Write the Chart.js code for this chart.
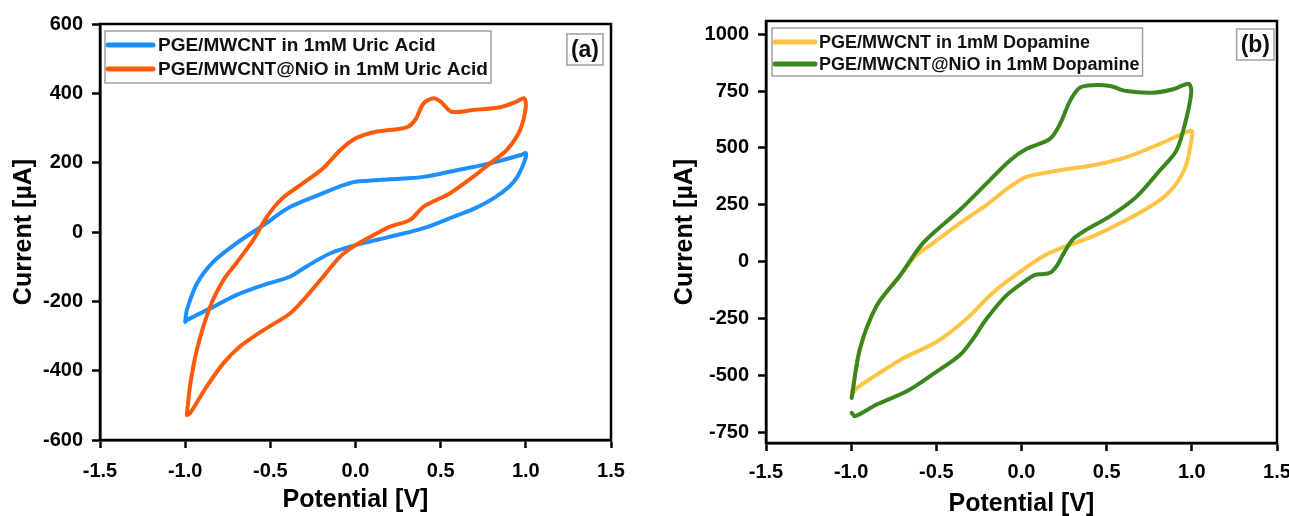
<!DOCTYPE html>
<html>
<head>
<meta charset="utf-8">
<script src="https://cdn.jsdelivr.net/npm/chart.js@4.4.1/dist/chart.umd.min.js"></script>
<style>
  html, body { margin: 0; padding: 0; background: #fff; overflow: hidden; width: 1289px; height: 516px; }
  .panel { position: absolute; top: 0; }
  #pa { left: 0; width: 645px; height: 516px; }
  #pb { left: 645px; width: 660px; height: 520px; }
</style>
</head>
<body>
<div class="panel" id="pa"><canvas id="chartA"></canvas></div>
<div class="panel" id="pb"><canvas id="chartB"></canvas></div>
<script>
// --- data: potential [V] and current [µA] ---

const xTicks = [-1.5, -1.0, -0.5, 0.0, 0.5, 1.0, 1.5];
const yTicksA = [-600, -400, -200, 0, 200, 400, 600];
const yTicksB = [-750, -500, -250, 0, 250, 500, 750, 1000];

// (a) PGE/MWCNT in 1mM Uric Acid
const uaBareV = [-1.0, -0.99, -0.93, -0.835, -0.70, -0.54, -0.385, -0.19, -0.07, 0.0, 0.2, 0.4, 0.6, 0.79, 0.97, 1.0,
  0.995, 0.95, 0.9, 0.81, 0.7, 0.6, 0.4, 0.2, 0.0, -0.15, -0.29, -0.385, -0.54, -0.70, -0.835, -0.99, -1.0];
const uaBareI = [-259, -225, -148, -86, -33, 20, 72, 112, 135, 145, 152, 159, 179, 198, 222, 228,
  208, 159, 130, 97, 68, 49, 11, -14, -38, -62, -100, -129, -153, -182, -216, -254, -259];

// (a) PGE/MWCNT@NiO in 1mM Uric Acid
const uaNioV = [-0.99, -0.972, -0.932, -0.854, -0.776, -0.70, -0.60, -0.52, -0.43, -0.31, -0.19, -0.09, 0.0, 0.12, 0.3, 0.35, 0.40, 0.457, 0.50, 0.565, 0.69, 0.85, 0.945, 0.99,
  1.0, 0.966, 0.887, 0.79, 0.69, 0.555, 0.40, 0.32, 0.2, 0.105, 0.0, -0.09, -0.19, -0.29, -0.385, -0.54, -0.68, -0.776, -0.874, -0.972, -0.99];
const uaNioI = [-528, -446, -341, -216, -139, -90, -23, 44, 97, 140, 184, 236, 270, 289, 302, 323, 371, 386, 376, 347, 352, 360, 376, 386,
  361, 294, 236, 198, 159, 112, 73, 35, 15, -9, -38, -71, -129, -187, -235, -283, -331, -379, -446, -523, -528];

// (b) PGE/MWCNT in 1mM Dopamine
const daBareV = [-0.997, -0.948, -0.85, -0.714, -0.615, -0.517, -0.361, -0.205, -0.068, 0.03, 0.226, 0.421, 0.617, 0.813, 0.969, 1.0,
  1.0, 0.969, 0.91, 0.813, 0.617, 0.421, 0.25, 0.13, 0.0, -0.167, -0.322, -0.498, -0.694, -0.85, -0.967, -0.997];
const daBareI = [-585, -382, -193, -62, 30, 83, 170, 250, 330, 373, 402, 424, 460, 518, 570, 575,
  547, 431, 344, 271, 184, 112, 65, 25, -40, -135, -251, -352, -425, -497, -556, -585];

// (b) PGE/MWCNT@NiO in 1mM Dopamine
const daNioV = [-0.997, -0.948, -0.85, -0.714, -0.577, -0.361, -0.205, -0.068, 0.03, 0.167, 0.226, 0.285, 0.343, 0.421, 0.519, 0.617, 0.773, 0.891, 0.98,
  0.997, 0.969, 0.91, 0.813, 0.676, 0.519, 0.382, 0.304, 0.25, 0.21, 0.17, 0.12, 0.08, 0.03, -0.09, -0.205, -0.283, -0.361, -0.498, -0.674, -0.85, -0.977, -0.997];
const daNioI = [-599, -382, -193, -62, 83, 228, 344, 445, 496, 540, 605, 707, 765, 776, 772, 750, 743, 758, 782,
  750, 634, 489, 402, 286, 199, 141, 100, 40, -15, -48, -55, -58, -80, -149, -251, -338, -410, -483, -570, -628, -679, -665];

const FONT = '"Liberation Sans", Arial, Helvetica, sans-serif';

function pts(xs, ys) {
  return xs.map((x, i) => ({ x: x, y: ys[i] }));
}

function series(label, xs, ys, color, order) {
  return {
    label: label,
    data: pts(xs, ys),
    borderColor: color,
    backgroundColor: color,
    borderWidth: 4,
    pointRadius: 0,
    showLine: true,
    fill: false,
    tension: 0.3,
    borderCapStyle: 'round',
    borderJoinStyle: 'round',
    order: order,
  };
}

// frame, legend box and panel tag drawn inside the plot area
const panelDecor = {
  id: 'panelDecor',
  afterDatasetsDraw(chart, args, o) {
    const { ctx, chartArea: a } = chart;
    ctx.save();
    ctx.strokeStyle = '#000';
    ctx.lineWidth = 2.5;
    ctx.strokeRect(a.left, a.top, a.right - a.left, a.bottom - a.top);

    ctx.font = 'bold ' + o.size + 'px ' + FONT;
    const sets = chart.data.datasets;
    const tw = Math.max(...sets.map(d => ctx.measureText(d.label).width));
    const x0 = a.left + o.dx, y0 = a.top + o.dy;
    const w = o.sample + o.gap + tw + 6;
    const h = o.row * sets.length + 4;
    ctx.fillStyle = '#fff';
    ctx.fillRect(x0, y0, w, h);
    ctx.strokeStyle = '#a0a0a0';
    ctx.lineWidth = 1.5;
    ctx.strokeRect(x0, y0, w, h);
    sets.forEach((d, i) => {
      const cy = y0 + o.first + i * o.row;
      ctx.strokeStyle = d.borderColor;
      ctx.lineWidth = 5;
      ctx.lineCap = 'round';
      ctx.beginPath();
      ctx.moveTo(x0 + 3, cy);
      ctx.lineTo(x0 + 3 + o.sample, cy);
      ctx.stroke();
      ctx.fillStyle = '#111';
      ctx.textBaseline = 'middle';
      ctx.textAlign = 'left';
      ctx.fillText(d.label, x0 + 3 + o.sample + o.gap, cy + 1);
    });

    ctx.font = 'bold ' + o.tagSize + 'px ' + FONT;
    const tagW = ctx.measureText(o.tag).width + 8;
    const tagH = o.tagSize + 8;
    const tx = a.right - o.tagRight - tagW, ty = a.top + o.tagTop;
    ctx.strokeStyle = '#a0a0a0';
    ctx.lineWidth = 1.5;
    ctx.strokeRect(tx, ty, tagW, tagH);
    ctx.fillStyle = '#111';
    ctx.textAlign = 'center';
    ctx.textBaseline = 'middle';
    ctx.fillText(o.tag, tx + tagW / 2, ty + tagH / 2 + 1);
    ctx.restore();
  }
};

function makeChart(id, datasets, p) {
  const tickFont = { family: FONT, size: 20, weight: 'bold' };
  const titleFont = { family: FONT, size: 25, weight: 'bold' };
  return new Chart(document.getElementById(id), {
    type: 'scatter',
    data: { datasets: datasets },
    plugins: [panelDecor],
    options: {
      responsive: true,
      maintainAspectRatio: false,
      animation: false,
      layout: { padding: { left: 0, top: p.top, right: p.right, bottom: 0 } },
      plugins: {
        legend: { display: false },
        tooltip: { enabled: false },
        panelDecor: p.decor,
      },
      scales: {
        x: {
          type: 'linear',
          min: -1.5,
          max: 1.5,
          afterBuildTicks: s => { s.ticks = xTicks.map(v => ({ value: v })); },
          afterFit: s => { s.height = p.xHeight; },
          ticks: { color: '#000', font: tickFont, padding: p.xTickPad, maxRotation: 0, callback: v => v.toFixed(1) },
          grid: { drawOnChartArea: false, drawTicks: true, tickLength: 8, tickWidth: 2.5, tickColor: '#000' },
          border: { display: true, color: '#000', width: 2.5 },
          title: { display: true, text: 'Potential [V]', color: '#000', font: titleFont, padding: { top: 0, bottom: p.xTitlePad } },
        },
        y: {
          type: 'linear',
          min: p.yMin,
          max: p.yMax,
          afterBuildTicks: s => { s.ticks = p.yTicks.map(v => ({ value: v })); },
          afterFit: s => { s.width = p.yWidth; },
          ticks: { color: '#000', font: tickFont, padding: 9, callback: v => String(v) },
          grid: { drawOnChartArea: false, drawTicks: true, tickLength: 8, tickWidth: 2.5, tickColor: '#000' },
          border: { display: true, color: '#000', width: 2.5 },
          title: { display: true, text: 'Current [µA]', color: '#000', font: titleFont, padding: { top: p.yTitlePad, bottom: 0 } },
        },
      },
    },
  });
}

makeChart('chartA', [
  series('PGE/MWCNT in 1mM Uric Acid', uaBareV, uaBareI, '#1E8FFF', 1),
  series('PGE/MWCNT@NiO in 1mM Uric Acid', uaNioV, uaNioI, '#FF5A0A', 0),
], {
  top: 24, right: 34, yWidth: 100, xHeight: 76,
  yMin: -600, yMax: 600, yTicks: yTicksA,
  xTickPad: 11, xTitlePad: 1, yTitlePad: 9,
  decor: { size: 19, dx: 5, dy: 7, first: 14, row: 24, sample: 45, gap: 5, tag: '(a)', tagSize: 23, tagRight: 8, tagTop: 10 },
});

makeChart('chartB', [
  series('PGE/MWCNT in 1mM Dopamine', daBareV, daBareI, '#FFC445', 1),
  series('PGE/MWCNT@NiO in 1mM Dopamine', daNioV, daNioI, '#3A871E', 0),
], {
  top: 16, right: 28, yWidth: 121, xHeight: 77,
  yMin: -797, yMax: 1058, yTicks: yTicksB,
  xTickPad: 9, xTitlePad: 1, yTitlePad: 25,
  decor: { size: 18, dx: 6, dy: 7, first: 14, row: 22, sample: 40, gap: 4, tag: '(b)', tagSize: 23, tagRight: 3, tagTop: 8 },
});
</script>
</body>
</html>
